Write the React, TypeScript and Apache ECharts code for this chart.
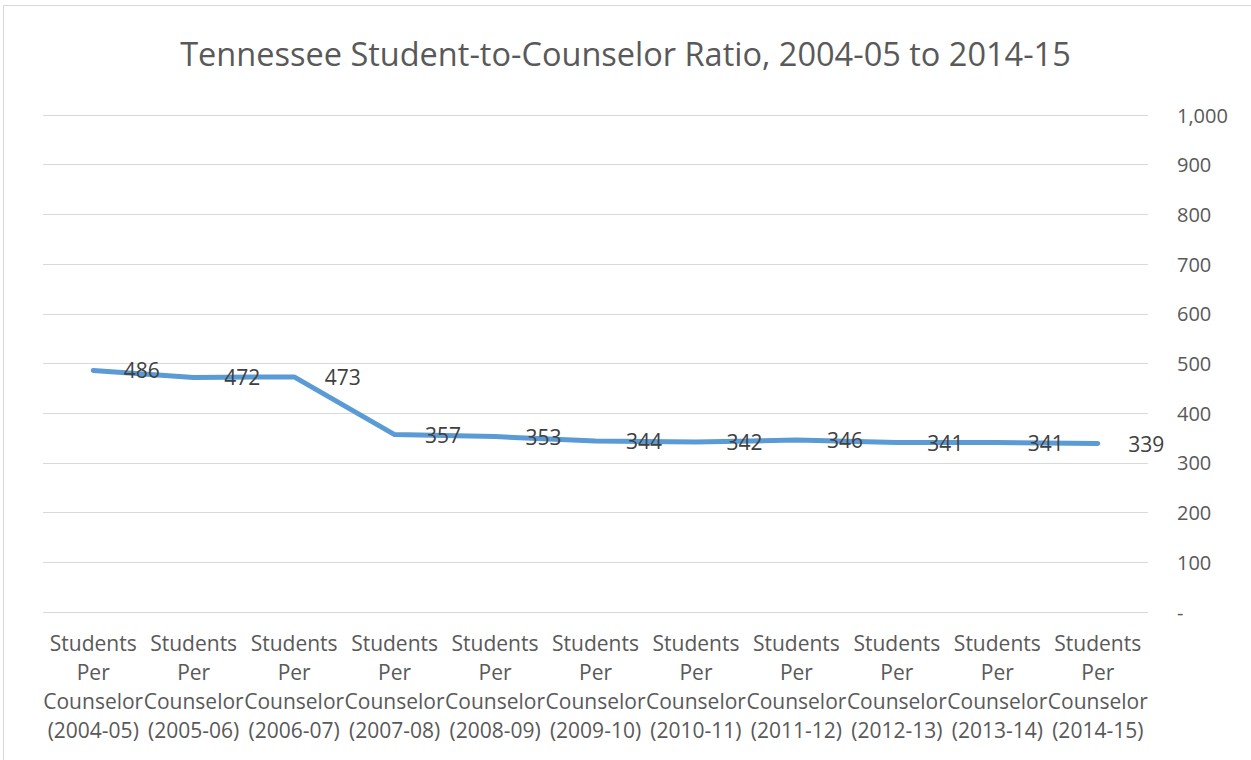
import React, { useEffect, useRef } from "react";
import * as echarts from "echarts";

const categories = [
  "Students Per Counselor (2004-05)",
  "Students Per Counselor (2005-06)",
  "Students Per Counselor (2006-07)",
  "Students Per Counselor (2007-08)",
  "Students Per Counselor (2008-09)",
  "Students Per Counselor (2009-10)",
  "Students Per Counselor (2010-11)",
  "Students Per Counselor (2011-12)",
  "Students Per Counselor (2012-13)",
  "Students Per Counselor (2013-14)",
  "Students Per Counselor (2014-15)",
];

const ratios = [486, 472, 473, 357, 353, 344, 342, 346, 341, 341, 339];

const titleText = "Tennessee Student-to-Counselor Ratio, 2004-05 to 2014-15";
const FONT = "'Open Sans', sans-serif";

export default function App() {
  const ref = useRef<HTMLDivElement>(null);

  useEffect(() => {
    if (!ref.current) return;
    const chart = echarts.init(ref.current, null, { renderer: "svg" });
    chart.setOption({
      animation: false,
      backgroundColor: "#ffffff",
      textStyle: { fontFamily: FONT },
      title: {
        text: titleText,
        left: "center",
        top: 32,
        textStyle: {
          fontFamily: FONT,
          fontSize: 32.5,
          fontWeight: "normal",
          color: "#595959",
        },
      },
      graphic: [
        {
          type: "rect",
          shape: { x: 3.5, y: 5.5, width: 1250, height: 760 },
          style: { fill: "none", stroke: "#d9d9d9", lineWidth: 1 },
          silent: true,
        },
      ],
      grid: { left: 43, right: 103, top: 115, bottom: 148 },
      xAxis: {
        type: "category",
        data: categories,
        boundaryGap: true,
        axisLine: { show: false },
        axisTick: { show: false },
        axisLabel: {
          interval: 0,
          margin: 16,
          fontFamily: FONT,
          fontSize: 21,
          color: "#595959",
          lineHeight: 29,
          formatter: (v: string) => {
            const m = v.match(/^(\S+) (\S+) (\S+) (.+)$/);
            return m ? [m[1], m[2], m[3], m[4]].join("\n") : v;
          },
        },
      },
      yAxis: {
        type: "value",
        position: "right",
        min: 0,
        max: 1000,
        interval: 100,
        axisLine: { show: false },
        axisTick: { show: false },
        splitLine: { lineStyle: { color: "#d9d9d9", width: 1 } },
        axisLabel: {
          margin: 29,
          fontFamily: FONT,
          fontSize: 20,
          color: "#595959",
          formatter: (v: number) =>
            v === 0 ? "-" : v.toLocaleString("en-US"),
        },
      },
      series: [
        {
          type: "line",
          data: ratios,
          showSymbol: true,
          symbol: "circle",
          symbolSize: 1,
          itemStyle: { color: "rgba(0,0,0,0)" },
          lineStyle: { color: "#5B9BD5", width: 5, cap: "round", join: "round" },
          label: {
            show: true,
            position: "right",
            distance: 30,
            fontFamily: FONT,
            fontSize: 21,
            color: "#404040",
          },
        },
      ],
    });
    return () => chart.dispose();
  }, []);

  return (
    <div
      ref={ref}
      style={{ position: "fixed", left: 0, top: 0, width: 1251, height: 760 }}
    />
  );
}
